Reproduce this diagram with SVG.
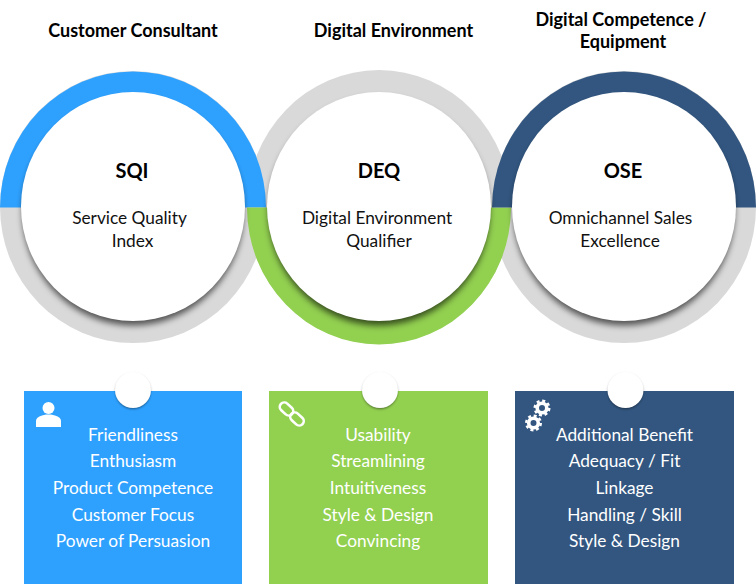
<svg xmlns="http://www.w3.org/2000/svg" width="756" height="584" viewBox="0 0 756 584">
<style>
text{font-family:"Lato","Open Sans",sans-serif;text-anchor:middle}
.h{font-size:18px;font-weight:700;fill:#000}
.t{font-size:20px;font-weight:700;fill:#000}
.s{font-size:17.3px;fill:#111}
.b{font-size:17.3px;fill:#fff}
.g{fill:#d9d9d9}
.w{fill:#fff}
.sw{fill:#000;fill-opacity:.62;filter:url(#sh)}
.sm{fill:#000;fill-opacity:.62;filter:url(#sm)}
</style>
<defs>
<filter id="sh" x="-10%" y="-10%" width="120%" height="120%"><feGaussianBlur stdDeviation="3"/></filter>
<filter id="sm" x="-30%" y="-30%" width="160%" height="160%"><feGaussianBlur stdDeviation="1.500"/></filter>
</defs>
<rect width="756" height="584" fill="#fff"/>
<g id="rings-back">
<ellipse class="g" cx="133" cy="207" rx="133" ry="136"/>
<ellipse class="g" cx="379" cy="207" rx="132" ry="137"/>
<ellipse class="g" cx="624" cy="207" rx="132" ry="136"/>
</g>
<g id="rings-color">
<path d="M0 207.500A133 136 0 0 1 266 207.500Z" fill="#2ea1ff"/>
<path d="M247 207.500A132 137 0 0 0 511 207.500Z" fill="#92d050"/>
<path d="M492 207.500A132 136 0 0 1 756 207.500Z" fill="#325680"/>
</g>
<g id="sqi">
<ellipse class="sw" cx="133" cy="211.500" rx="110.500" ry="114"/>
<ellipse class="w" cx="133" cy="206.500" rx="112" ry="114.500"/>
<text class="t" x="132" y="178">SQI</text>
<text class="s" x="129.500" y="224">Service Quality</text>
<text class="s" x="132.500" y="247">Index</text>
</g>
<g id="deq">
<ellipse class="sw" cx="379" cy="211.500" rx="110.500" ry="114"/>
<ellipse class="w" cx="379" cy="206.500" rx="112" ry="114.500"/>
<text class="t" x="379" y="178">DEQ</text>
<text class="s" x="377" y="224">Digital Environment</text>
<text class="s" x="379" y="247">Qualifier</text>
</g>
<g id="ose">
<ellipse class="sw" cx="624" cy="211.500" rx="110.500" ry="114"/>
<ellipse class="w" cx="624" cy="206.500" rx="112" ry="114.500"/>
<text class="t" x="623" y="178">OSE</text>
<text class="s" x="620.500" y="224">Omnichannel Sales</text>
<text class="s" x="620" y="247">Excellence</text>
</g>
<g id="titles">
<text class="h" x="133" y="37">Customer Consultant</text>
<text class="h" x="393.500" y="37">Digital Environment</text>
<text class="h" x="621" y="26">Digital Competence /</text>
<text class="h" x="623" y="48">Equipment</text>
</g>
<g id="box-sqi">
<rect x="24" y="391" width="218" height="193" fill="#2ea1ff"/>
<circle class="sm" cx="133" cy="391.500" r="17"/>
<circle class="w" cx="133" cy="390" r="18"/>
<g fill="#fff"><circle cx="48.500" cy="408" r="6"/><path d="M36 427V421Q36 417 42 415.500L46 414.500H51L55 415.500Q61 417 61 421V427Z"/></g>
<text class="b" x="133" y="441">Friendliness</text>
<text class="b" x="133" y="467">Enthusiasm</text>
<text class="b" x="133" y="494">Product Competence</text>
<text class="b" x="133" y="521">Customer Focus</text>
<text class="b" x="133" y="547">Power of Persuasion</text>
</g>
<g id="box-deq">
<rect x="269" y="391" width="219" height="193" fill="#92d050"/>
<circle class="sm" cx="380" cy="391.500" r="17"/>
<circle class="w" cx="380" cy="390" r="18"/>
<g fill="none" stroke="#fff" stroke-width="2.600"><rect x="279" y="404.500" width="15" height="9" rx="4.500" transform="rotate(42 286.500 409)"/><rect x="289.500" y="414.500" width="15" height="9" rx="4.500" transform="rotate(42 297 419)"/></g>
<text class="b" x="378" y="441">Usability</text>
<text class="b" x="378" y="467">Streamlining</text>
<text class="b" x="378" y="494">Intuitiveness</text>
<text class="b" x="378" y="521">Style &amp; Design</text>
<text class="b" x="378" y="547">Convincing</text>
</g>
<g id="box-ose">
<rect x="515" y="391" width="219" height="193" fill="#325680"/>
<circle class="sm" cx="625.500" cy="391.500" r="17"/>
<circle class="w" cx="625.500" cy="390" r="18"/>
<g fill="none" stroke="#fff"><circle cx="542" cy="408" r="4.800" stroke-width="3.600"/><circle cx="542" cy="408" r="7.300" stroke-width="2.400" stroke-dasharray="3 2.730"/><circle cx="533.500" cy="423" r="4.800" stroke-width="3.600"/><circle cx="533.500" cy="423" r="7.300" stroke-width="2.400" stroke-dasharray="3 2.730"/></g>
<text class="b" x="624.500" y="441">Additional Benefit</text>
<text class="b" x="624.500" y="467">Adequacy / Fit</text>
<text class="b" x="624.500" y="494">Linkage</text>
<text class="b" x="624.500" y="521">Handling / Skill</text>
<text class="b" x="624.500" y="547">Style &amp; Design</text>
</g>
</svg>
